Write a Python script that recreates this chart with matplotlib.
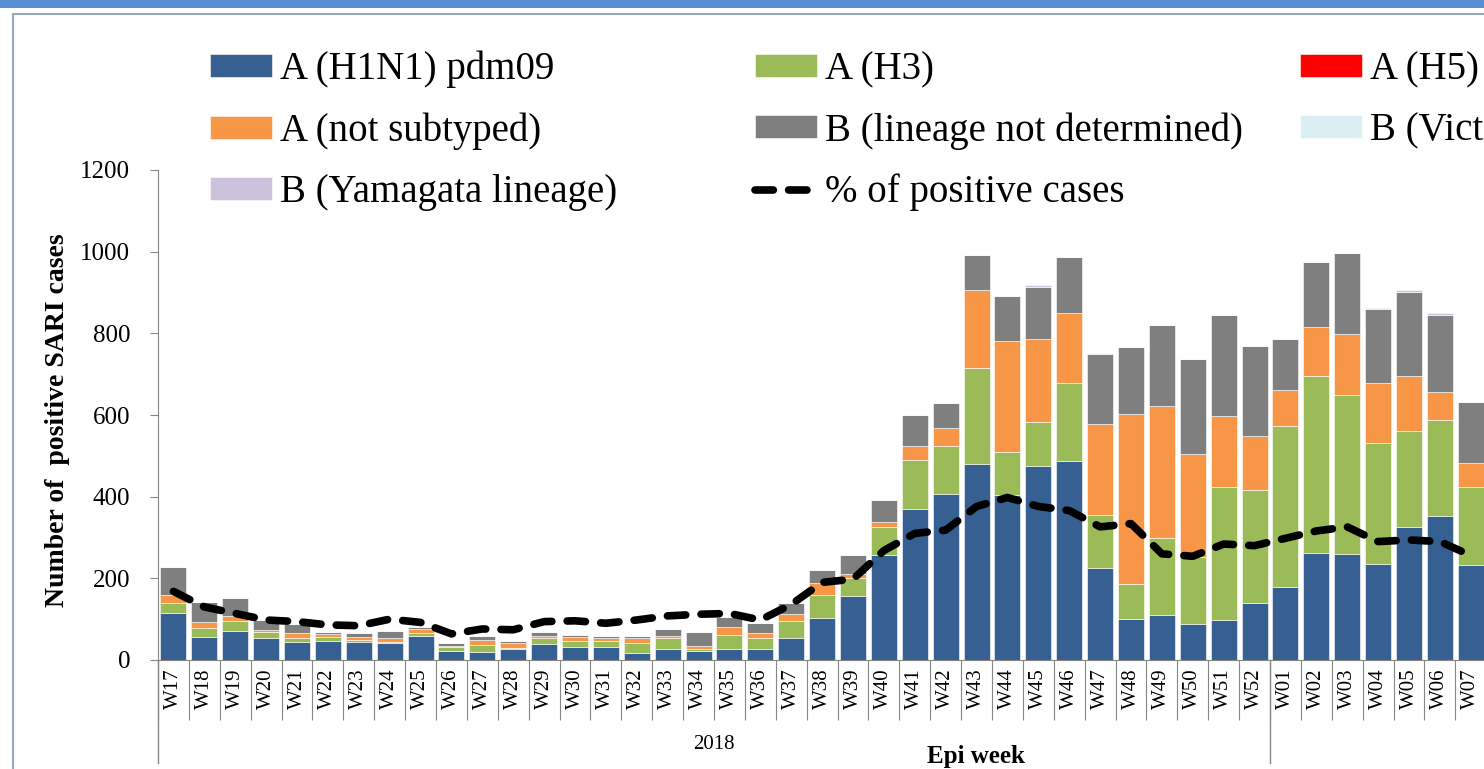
import numpy as np
import matplotlib.pyplot as plt
from matplotlib.patches import Rectangle
from matplotlib.transforms import blended_transform_factory

plt.rcParams['font.family'] = ['Liberation Serif', 'DejaVu Serif']

weeks = ["W17", "W18", "W19", "W20", "W21", "W22", "W23", "W24", "W25", "W26",
         "W27", "W28", "W29", "W30", "W31", "W32", "W33", "W34", "W35", "W36",
         "W37", "W38", "W39", "W40", "W41", "W42", "W43", "W44", "W45", "W46",
         "W47", "W48", "W49", "W50", "W51", "W52", "W01", "W02", "W03", "W04",
         "W05", "W06", "W07"]

h1n1 = [114, 57, 72, 55, 44, 47, 43, 41, 60, 22, 20, 27, 38, 33, 33, 18, 27, 22, 27, 27,
        53, 104, 157, 257, 371, 406, 480, 405, 476, 487, 226, 100, 110, 87, 98, 139,
        180, 261, 259, 235, 325, 353, 233]
h3 = [26, 22, 24, 13, 11, 9, 6, 4, 7, 9, 17, 3, 15, 14, 14, 24, 28, 4, 35, 26,
      43, 54, 43, 68, 119, 118, 236, 104, 108, 192, 129, 85, 188, 166, 326, 277,
      394, 435, 389, 296, 236, 235, 190]
h5 = [0] * 43
not_subtyped = [19, 15, 12, 5, 10, 8, 7, 10, 8, 4, 12, 11, 7, 9, 8, 11, 5, 8, 18, 12,
                16, 30, 11, 14, 34, 43, 190, 271, 202, 170, 223, 417, 324, 251, 174, 133,
                87, 119, 150, 147, 135, 69, 60]
b_undetermined = [68, 47, 43, 25, 22, 5, 11, 17, 5, 6, 10, 6, 8, 5, 5, 6, 17, 35, 26, 25,
                  27, 32, 46, 54, 76, 62, 87, 111, 128, 139, 171, 164, 198, 232, 247, 220,
                  125, 159, 198, 182, 206, 188, 148]
b_victoria = [0] * 43
b_yamagata = [0] * 28 + [4, 0, 3] + [0] * 8 + [3, 3, 4, 0]

pct_positive = [8.4, 6.5, 5.7, 4.9, 4.7, 4.3, 4.2, 5.0, 4.6, 3.2, 3.8, 3.7, 4.7, 4.8,
                4.5, 4.9, 5.4, 5.6, 5.7, 4.9, 6.8, 9.5, 9.9, 13.4, 15.5, 15.9, 18.8,
                19.9, 18.8, 18.3, 16.3, 16.7, 13.0, 12.7, 14.2, 14.0, 14.9, 15.8, 16.3,
                14.5, 14.7, 14.5, 12.8]

groups = ["2018"]
group_bounds = [-0.5, 35.5]

series = [
    ("A (H1N1) pdm09", h1n1, "#376092"),
    ("A (H3)", h3, "#9BBB59"),
    ("A (H5)", h5, "#FF0000"),
    ("A (not subtyped)", not_subtyped, "#F79646"),
    ("B (lineage not determined)", b_undetermined, "#7F7F7F"),
    ("B (Victoria lineage)", b_victoria, "#DBEEF4"),
    ("B (Yamagata lineage)", b_yamagata, "#CCC1DA"),
]

W, H = 1484, 769


def px(x, y):
    return x / W, 1 - y / H


fig = plt.figure(figsize=(W / 100, H / 100), dpi=100)
fig.add_artist(Rectangle((0, 1 - 8 / H), 1, 8 / H, transform=fig.transFigure,
                         facecolor="#548DD4", edgecolor="none"))
fig.add_artist(Rectangle((13 / W, -0.1), 1.2, 1.1 - 14 / H, transform=fig.transFigure,
                         fill=False, edgecolor="#94A7C0", lw=1.5))

ax = fig.add_axes([158 / W, 109 / H, 1390 / W, 490 / H])
x = np.arange(len(weeks))
bottom = np.zeros(len(weeks))
for name, vals, color in series:
    vals = np.array(vals, dtype=float)
    ax.bar(x, vals, 0.84, bottom=bottom, color=color, edgecolor="white",
           linewidth=0.4, label=name)
    bottom += vals

ax2 = ax.twinx()
ax2.plot(x, pct_positive, color="black", lw=5.5, linestyle=(0, (2.4, 2.0)),
         dash_capstyle="round", label="% of positive cases")
ax2.set_ylim(0, 60)
ax2.axis("off")

ax.set_xlim(-0.5, 44.5)
ax.set_ylim(0, 1200)
ax.set_yticks(range(0, 1201, 200))
for s in ["top", "right"]:
    ax.spines[s].set_visible(False)
for s in ["left", "bottom"]:
    ax.spines[s].set_color("#868686")
ax.tick_params(axis="y", length=6, color="#868686", labelsize=18, pad=14)

ax.set_xticks(np.arange(-0.5, 45, 1))
ax.set_xticklabels([])
ax.set_xticks(x, minor=True)
ax.set_xticklabels(weeks, minor=True, rotation=90)
ax.tick_params(axis="x", which="major", length=43, color="#868686")
ax.tick_params(axis="x", which="minor", length=0, pad=6, labelsize=15)

trans = blended_transform_factory(ax.transData, ax.transAxes)
for b in group_bounds:
    ax.plot([b, b], [0, -0.21], transform=trans, color="#868686", lw=1, clip_on=False)
ax.text((group_bounds[0] + group_bounds[1]) / 2, -0.173, groups[0], transform=trans,
        ha="center", va="center", fontsize=15)

ax.set_ylabel("Number of  positive SARI cases", fontsize=20, fontweight="bold")
ax.yaxis.set_label_coords((70 - 158) / 1390, 0.49)
fig.text(*px(976, 757), "Epi week", ha="center", va="center", fontsize=18,
         fontweight="bold")

handles, labels = ax.get_legend_handles_labels()
h2, l2 = ax2.get_legend_handles_labels()
lookup = dict(zip(labels + l2, handles + h2))
columns = [
    ["A (H1N1) pdm09", "A (not subtyped)", "B (Yamagata lineage)"],
    ["A (H3)", "B (lineage not determined)", "% of positive cases"],
    ["A (H5)", "B (Victoria lineage)"],
]
for col, left in zip(columns, [210, 755, 1300]):
    fig.legend([lookup[c] for c in col], col, loc="upper left",
               bbox_to_anchor=px(left, 51), frameon=False, borderpad=0,
               borderaxespad=0, handlelength=1.6, handleheight=0.52,
               handletextpad=0.2, labelspacing=0.62,
               prop=dict(family="Liberation Serif", size=28))

fig.savefig("out.png", dpi=100)
